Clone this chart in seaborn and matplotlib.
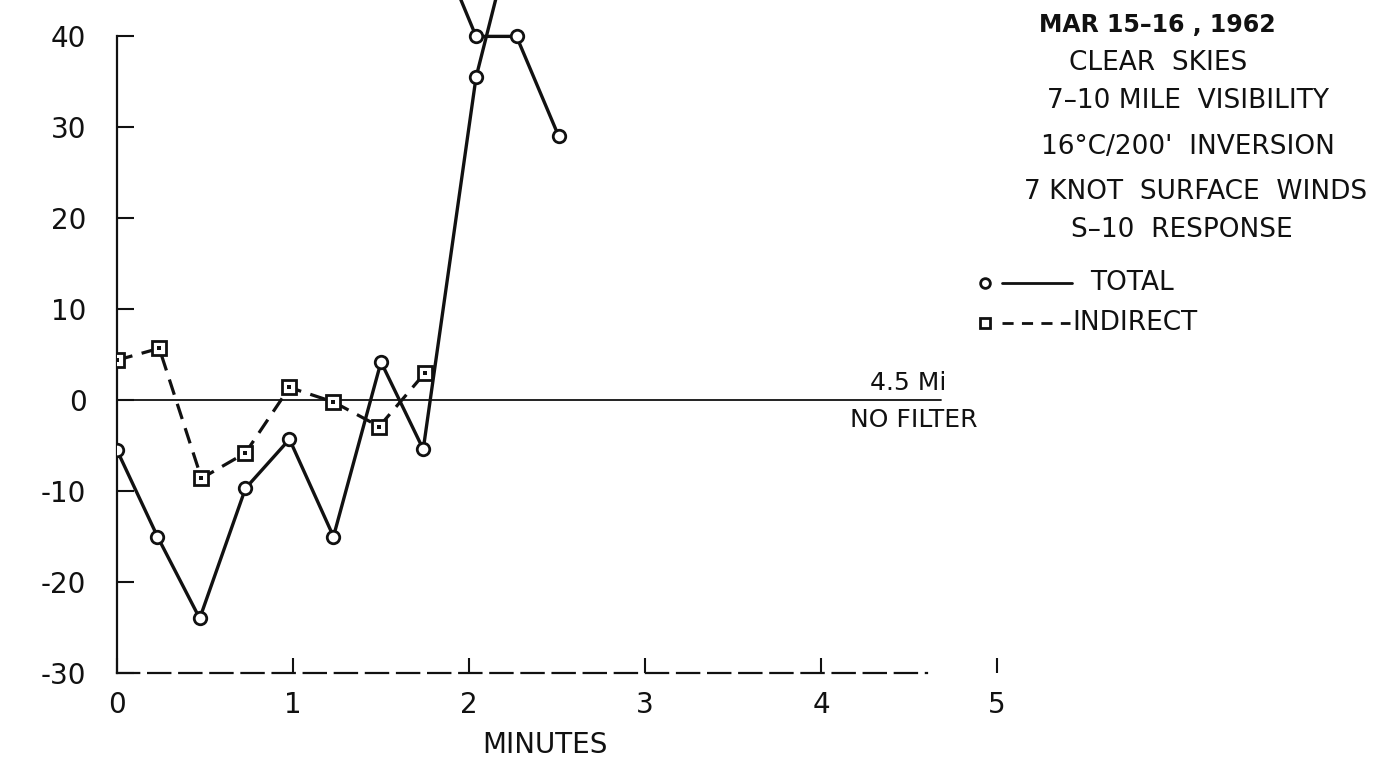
import numpy as np
import pandas as pd
import matplotlib
matplotlib.use("Agg")
import matplotlib.pyplot as plt
import seaborn as sns
from matplotlib.lines import Line2D

# ---- data ----
total_x = [0.0, 0.23, 0.47, 0.73, 0.98, 1.23, 1.5, 1.74, 2.04, 2.19]
total_y = [-5.5, -15.0, -24.0, -9.7, -4.3, -15.0, 4.2, -5.4, 35.5, 47.0]
total2_x = [1.89, 2.04, 2.27, 2.51]
total2_y = [47.0, 40.0, 40.0, 29.0]
indirect_x = [0.0, 0.24, 0.48, 0.73, 0.98, 1.23, 1.49, 1.75]
indirect_y = [4.4, 5.7, -8.6, -5.8, 1.4, -0.2, -2.9, 3.0]
yticks = [-30, -20, -10, 0, 10, 20, 30, 40]
ytick_labels = ["-30", "-20", "-10", "0", "10", "20", "30", "40"]
xticks = [0, 1, 2, 3, 4, 5]
xtick_labels = ["0", "1", "2", "3", "4", "5"]
notes = ["MAR 15\u201316 , 1962", "CLEAR  SKIES", "7\u201310 MILE  VISIBILITY",
         "16\u00b0C/200'  INVERSION", "7 KNOT  SURFACE  WINDS", "S\u201310  RESPONSE"]

sns.set_theme(style="white")
plt.rcParams["font.family"] = ["DejaVu Sans"]

W, H = 1386, 758
fig = plt.figure(figsize=(W / 100, H / 100), dpi=100)
x0_px, xscale = 117, 176.0
ymin, ymax = -30, 44
ax = fig.add_axes([x0_px / W, 85 / H, 5.2 * xscale / W, 673 / H])
ax.set_xlim(0, 5.2)
ax.set_ylim(ymin, ymax)

ink = "#111111"
# zero line
ax.axhline(0, xmin=0, xmax=4.68 / 5.2, color=ink, lw=1.3, zorder=1)

df_t = pd.DataFrame({"x": total_x, "y": total_y})
df_t2 = pd.DataFrame({"x": total2_x, "y": total2_y})
df_i = pd.DataFrame({"x": indirect_x, "y": indirect_y})

sns.lineplot(data=df_i, x="x", y="y", ax=ax, color=ink, lw=2.3,
             linestyle=(0, (5, 3)), marker="s", markersize=10,
             markerfacecolor="white", markeredgecolor=ink, markeredgewidth=2,
             zorder=3)
sns.lineplot(data=df_i, x="x", y="y", ax=ax, color=ink, lw=0,
             marker="s", markersize=2.5, markerfacecolor=ink,
             markeredgecolor=ink, markeredgewidth=0, zorder=3.5)
sns.lineplot(data=df_t, x="x", y="y", ax=ax, color=ink, lw=2.4, sort=False,
             marker="o", markersize=9, markerfacecolor="white",
             markeredgecolor=ink, markeredgewidth=2, zorder=4)
sns.lineplot(data=df_t2, x="x", y="y", ax=ax, color=ink, lw=2.4, sort=False,
             marker="o", markersize=9, markerfacecolor="white",
             markeredgecolor=ink, markeredgewidth=2, zorder=4)

# axes styling
for s in ["top", "right"]:
    ax.spines[s].set_visible(False)
ax.spines["left"].set_bounds(-30, 40)
ax.spines["left"].set_color(ink)
ax.spines["left"].set_linewidth(1.6)
ax.spines["bottom"].set_bounds(0, 4.6)
ax.spines["bottom"].set_color(ink)
ax.spines["bottom"].set_linewidth(1.6)
ax.spines["bottom"].set_linestyle((0, (10, 4)))

ax.set_yticks(yticks)
ax.set_yticklabels(ytick_labels)
ax.set_xticks(xticks)
ax.set_xticklabels(xtick_labels)
ax.tick_params(axis="y", direction="in", length=12, width=1.5, color=ink,
               pad=22, labelsize=20, labelcolor=ink, left=True)
ax.tick_params(axis="x", direction="in", length=11, width=1.5, color=ink,
               pad=13, labelsize=20, labelcolor=ink, bottom=True)
ax.set_xlabel("")
ax.set_ylabel("")
ax.grid(False)

def px(x, y):
    return x / W, 1 - y / H

fig.text(*px(545, 745), "MINUTES", ha="center", va="center", fontsize=20, color=ink)

note_y = [25, 63, 101, 147, 192, 230]
note_x = [1157, 1158, 1188, 1188, 1196, 1182]
note_w = ["bold", "normal", "normal", "normal", "normal", "normal"]
note_s = [17, 19, 19, 19, 19, 19]
for t, xx, yy, fw, fs in zip(notes, note_x, note_y, note_w, note_s):
    fig.text(*px(xx, yy), t, ha="center", va="center", fontsize=fs,
             color=ink, fontweight=fw)

# legend (drawn manually to match the annotation style)
fig.add_artist(Line2D([985 / W], [1 - 283 / H], marker="o", markersize=7,
                      mfc="white", mec=ink, mew=2, transform=fig.transFigure))
fig.add_artist(Line2D([1002 / W, 1072 / W], [1 - 283 / H, 1 - 283 / H],
                      color=ink, lw=2, transform=fig.transFigure))
fig.text(*px(1090, 283), "TOTAL", ha="left", va="center", fontsize=19, color=ink)
fig.add_artist(Line2D([985 / W], [1 - 323 / H], marker="s", markersize=7,
                      mfc="white", mec=ink, mew=2, transform=fig.transFigure))
fig.add_artist(Line2D([1002 / W, 1070 / W], [1 - 323 / H, 1 - 323 / H],
                      color=ink, lw=2, linestyle=(0, (4, 3)),
                      transform=fig.transFigure))
fig.text(*px(1072, 323), "INDIRECT", ha="left", va="center", fontsize=19, color=ink)

fig.text(*px(908, 383), "4.5 Mi", ha="center", va="center", fontsize=18, color=ink)
fig.text(*px(914, 420), "NO FILTER", ha="center", va="center", fontsize=18, color=ink)

fig.savefig("out.png", dpi=100)
